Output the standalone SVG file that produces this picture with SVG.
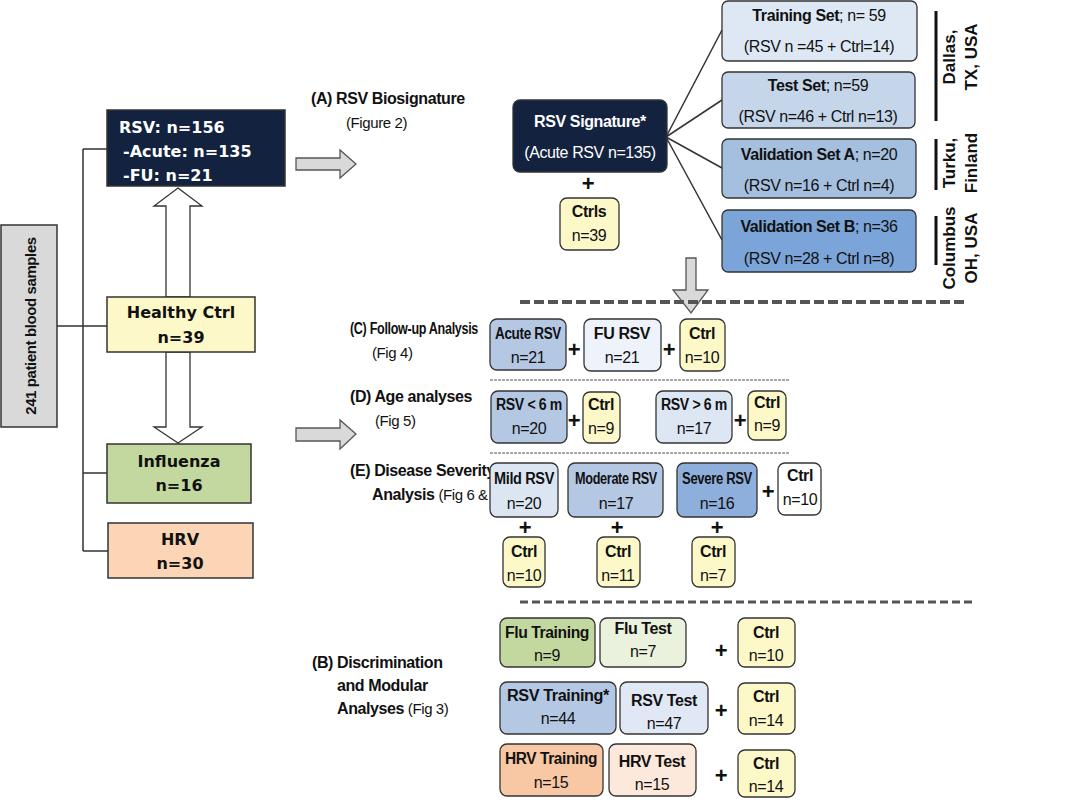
<svg xmlns="http://www.w3.org/2000/svg" width="1090" height="800" viewBox="0 0 1090 800">
<style>
text{font-family:"Liberation Sans",Arial,sans-serif;font-size:15px;letter-spacing:-0.4px;fill:#111}
.v{font-family:"DejaVu Sans",Verdana,sans-serif;font-weight:bold;font-size:16px;letter-spacing:0}
.b{font-weight:bold}
.c{text-anchor:middle}
.w{fill:#fff}
.t{font-size:16px}
.h{font-size:16px;font-weight:bold}
.sq{stroke:#333;stroke-width:1.5}
.r{stroke:#333;stroke-width:1.3}
.ln{stroke:#333;stroke-width:1.5;fill:none}
.plus{font-weight:bold;font-size:22px;text-anchor:middle}
.blk{fill:#d9d9d9;stroke:#555;stroke-width:1.3}
.hol{fill:#fff;stroke:#333;stroke-width:1.3}
.y{fill:#fdf8c8}
.loc{font-size:17px;font-weight:bold;text-anchor:middle;letter-spacing:0}
</style>
<g id="connectors">
<path class="ln" d="M57,326H83M83,149V551M83,149H107M83,326H107M83,473H107M83,551H108"/>
<path class="ln" d="M666,137L722,30M666,137L722,100M666,137L722,168M666,137L722,240"/>
<path class="hol" d="M178,188L202,206H190V297H166V206H154Z"/>
<path class="hol" d="M166,352H190V427H202L178,443L154,427H166Z"/>
<path class="blk" d="M296,158H340V150L356,164L340,178V170H296Z"/>
<path class="blk" d="M296,428H340V420L356,434L340,449V441H296Z"/>
<path class="blk" d="M686,258H696V290H708L691,313L673,290H686Z"/>
<path d="M520,302H968" stroke="#555" stroke-width="4" stroke-dasharray="10,4"/>
<path d="M520,602H975" stroke="#555" stroke-width="3" stroke-dasharray="8,4"/>
<path d="M490,380H790M490,453H790" stroke="#555" stroke-width="1" stroke-dasharray="3,1"/>
<path d="M936,11V121M936,139V190M936,216V265" stroke="#111" stroke-width="3"/>
</g>
<g id="total"><rect x="1" y="225" width="56" height="202" fill="#d9d9d9" class="sq"/>
<text class="b c" transform="translate(36,326) rotate(-90)" font-size="21" letter-spacing="0">241 patient blood samples</text></g>
<g id="rsv"><rect x="107" y="110" width="178" height="76" fill="#13233f" class="sq"/>
<text class="v w" x="119" y="133">RSV: n=156</text><text class="v w" x="123" y="157">-Acute: n=135</text><text class="v w" x="123" y="181">-FU:  n=21</text></g>
<g id="healthy"><rect x="107" y="297" width="148" height="55" class="sq y"/>
<text class="v c" x="181" y="318">Healthy Ctrl</text><text class="v c" x="181" y="343">n=39</text></g>
<g id="flu"><rect x="107" y="444" width="144" height="59" fill="#c3d89e" class="sq"/>
<text class="v c" x="179" y="467">Influenza</text><text class="v c" x="179" y="491">n=16</text></g>
<g id="hrv"><rect x="108" y="523" width="145" height="55" fill="#fcd5b6" class="sq"/>
<text class="v c" x="180" y="545">HRV</text><text class="v c" x="180" y="569">n=30</text></g>
<g id="labels">
<text x="311" y="104" class="h">(A)  RSV Biosignature</text><text x="346" y="128">(Figure 2)</text>
<text x="350" y="334" class="h" textLength="128" lengthAdjust="spacingAndGlyphs">(C)  Follow-up Analysis</text><text x="372" y="358">(Fig 4)</text>
<text x="350" y="402" class="h">(D)  Age analyses</text><text x="375" y="426">(Fig 5)</text>
<text x="350" y="476" class="h">(E)  Disease Severity</text><text x="372" y="500"><tspan class="h">Analysis</tspan> (Fig 6 &amp; 7)</text>
<text x="312" y="668" class="h">(B) Discrimination</text><text x="337" y="691" class="h">and Modular</text><text x="337" y="714"><tspan class="h">Analyses</tspan> (Fig 3)</text>
<text class="loc" x="955" y="57" transform="rotate(-90 955 57)">Dallas,</text><text class="loc" x="977" y="57" transform="rotate(-90 977 57)">TX, USA</text>
<text class="loc" x="955" y="163" transform="rotate(-90 955 163)">Turku,</text><text class="loc" x="977" y="163" transform="rotate(-90 977 163)">Finland</text>
<text class="loc" x="955" y="248" transform="rotate(-90 955 248)">Columbus</text><text class="loc" x="977" y="248" transform="rotate(-90 977 248)">OH, USA</text>
<text class="plus" x="588" y="191">+</text>
<text class="plus" x="574" y="357">+</text><text class="plus" x="669" y="357">+</text>
<text class="plus" x="574" y="428">+</text><text class="plus" x="740" y="428">+</text>
<text class="plus" x="768" y="499">+</text>
<text class="plus" x="525" y="535">+</text><text class="plus" x="617" y="535">+</text><text class="plus" x="717" y="535">+</text>
<text class="plus" x="721" y="658">+</text><text class="plus" x="721" y="718">+</text><text class="plus" x="721" y="783">+</text>
</g>
<g id="sig"><rect x="513" y="100" width="154" height="72" rx="7" fill="#13233f" class="r"/>
<text class="b c w t" x="590" y="127">RSV Signature*</text><text class="c w t" x="590" y="158">(Acute RSV n=135)</text></g>
<g id="ctrls"><rect x="560" y="198" width="59" height="52" rx="7" class="r y"/><text class="b c t" x="589" y="217">Ctrls</text><text class="c t" x="589" y="241">n=39</text></g>
<g id="train"><rect x="722" y="1" width="195" height="60" rx="6" fill="#dde8f4" class="r"/><text class="c t" x="819" y="21"><tspan class="b">Training Set</tspan>; n= 59</text><text class="c t" x="819" y="52">(RSV n =45 + Ctrl=14)</text></g>
<g id="test"><rect x="722" y="72" width="193" height="56" rx="6" fill="#c5d6eb" class="r"/><text class="c t" x="818" y="91"><tspan class="b">Test Set</tspan>; n=59</text><text class="c t" x="818" y="122">(RSV n=46 + Ctrl n=13)</text></g>
<g id="valA"><rect x="722" y="139" width="194" height="59" rx="6" fill="#a5bfdf" class="r"/><text class="c t" x="819" y="160"><tspan class="b">Validation Set A</tspan>; n=20</text><text class="c t" x="819" y="191">(RSV n=16 + Ctrl n=4)</text></g>
<g id="valB"><rect x="722" y="210" width="194" height="62" rx="6" fill="#7ba5d8" class="r"/><text class="c t" x="819" y="232"><tspan class="b">Validation Set B</tspan>; n=36</text><text class="c t" x="819" y="264">(RSV n=28 + Ctrl n=8)</text></g>
<g id="c1"><rect x="490" y="319" width="76" height="51" rx="7" fill="#b4c8e4" class="r"/><text class="b c t" x="528" y="339" textLength="66" lengthAdjust="spacingAndGlyphs">Acute RSV</text><text class="c t" x="528" y="363">n=21</text></g>
<g id="c2"><rect x="584" y="319" width="77" height="52" rx="7" fill="#eef2fa" class="r"/><text class="b c t" x="622" y="339">FU RSV</text><text class="c t" x="622" y="363">n=21</text></g>
<g id="c3"><rect x="680" y="319" width="45" height="52" rx="7" class="r y"/><text class="b c t" x="702" y="339">Ctrl</text><text class="c t" x="702" y="363">n=10</text></g>
<g id="d1"><rect x="491" y="391" width="76" height="52" rx="7" fill="#b4c8e4" class="r"/><text class="b c t" x="529" y="410" textLength="66" lengthAdjust="spacingAndGlyphs">RSV &lt; 6 m</text><text class="c t" x="529" y="434">n=20</text></g>
<g id="d2"><rect x="583" y="392" width="37" height="51" rx="7" class="r y"/><text class="b c t" x="601" y="410">Ctrl</text><text class="c t" x="601" y="434">n=9</text></g>
<g id="d3"><rect x="656" y="391" width="76" height="52" rx="7" fill="#dde6f3" class="r"/><text class="b c t" x="694" y="410" textLength="66" lengthAdjust="spacingAndGlyphs">RSV &gt; 6 m</text><text class="c t" x="694" y="434">n=17</text></g>
<g id="d4"><rect x="748" y="391" width="38" height="49" rx="7" class="r y"/><text class="b c t" x="767" y="408">Ctrl</text><text class="c t" x="767" y="431">n=9</text></g>
<g id="e1"><rect x="490" y="463" width="68" height="54" rx="7" fill="#dce6f3" class="r"/><text class="b c t" x="524" y="484" textLength="60" lengthAdjust="spacingAndGlyphs">Mild RSV</text><text class="c t" x="524" y="509">n=20</text></g>
<g id="e2"><rect x="568" y="463" width="95" height="54" rx="7" fill="#b4c8e4" class="r"/><text class="b c t" x="616" y="484" textLength="82" lengthAdjust="spacingAndGlyphs">Moderate RSV</text><text class="c t" x="616" y="509">n=17</text></g>
<g id="e3"><rect x="677" y="463" width="80" height="54" rx="7" fill="#8eaedb" class="r"/><text class="b c t" x="717" y="484" textLength="70" lengthAdjust="spacingAndGlyphs">Severe RSV</text><text class="c t" x="717" y="509">n=16</text></g>
<g id="e4"><rect x="778" y="463" width="43" height="52" rx="7" fill="#fff" class="r"/><text class="b c t" x="800" y="481">Ctrl</text><text class="c t" x="800" y="505">n=10</text></g>
<g id="e5"><rect x="503" y="537" width="42" height="50" rx="7" class="r y"/><text class="b c t" x="524" y="557">Ctrl</text><text class="c t" x="524" y="581">n=10</text></g>
<g id="e6"><rect x="597" y="537" width="43" height="50" rx="7" class="r y"/><text class="b c t" x="618" y="557">Ctrl</text><text class="c t" x="618" y="581">n=11</text></g>
<g id="e7"><rect x="692" y="537" width="43" height="50" rx="7" class="r y"/><text class="b c t" x="713" y="557">Ctrl</text><text class="c t" x="713" y="581">n=7</text></g>
<g id="b1"><rect x="500" y="618" width="95" height="49" rx="7" fill="#c3d89e" class="r"/><text class="b c t" x="547" y="638" textLength="84" lengthAdjust="spacingAndGlyphs">Flu Training</text><text class="c t" x="547" y="661">n=9</text></g>
<g id="b2"><rect x="600" y="618" width="86" height="49" rx="7" fill="#eaf1dc" class="r"/><text class="b c t" x="643" y="634">Flu Test</text><text class="c t" x="643" y="657">n=7</text></g>
<g id="b3"><rect x="738" y="618" width="57" height="49" rx="7" class="r y"/><text class="b c t" x="766" y="638">Ctrl</text><text class="c t" x="766" y="661">n=10</text></g>
<g id="b4"><rect x="500" y="682" width="116" height="52" rx="7" fill="#b4c8e4" class="r"/><text class="b c t" x="558" y="701" textLength="102" lengthAdjust="spacingAndGlyphs">RSV Training*</text><text class="c t" x="558" y="724">n=44</text></g>
<g id="b5"><rect x="620" y="682" width="88" height="52" rx="7" fill="#e1e8f5" class="r"/><text class="b c t" x="664" y="706">RSV Test</text><text class="c t" x="664" y="729">n=47</text></g>
<g id="b6"><rect x="738" y="683" width="57" height="51" rx="7" class="r y"/><text class="b c t" x="766" y="702">Ctrl</text><text class="c t" x="766" y="726">n=14</text></g>
<g id="b7"><rect x="500" y="744" width="103" height="52" rx="7" fill="#f8c7a4" class="r"/><text class="b c t" x="551" y="764" textLength="92" lengthAdjust="spacingAndGlyphs">HRV Training</text><text class="c t" x="551" y="788">n=15</text></g>
<g id="b8"><rect x="609" y="744" width="87" height="52" rx="7" fill="#fde9dc" class="r"/><text class="b c t" x="652" y="767">HRV Test</text><text class="c t" x="652" y="790">n=15</text></g>
<g id="b9"><rect x="738" y="750" width="57" height="47" rx="7" class="r y"/><text class="b c t" x="766" y="769">Ctrl</text><text class="c t" x="766" y="792">n=14</text></g>
</svg>
